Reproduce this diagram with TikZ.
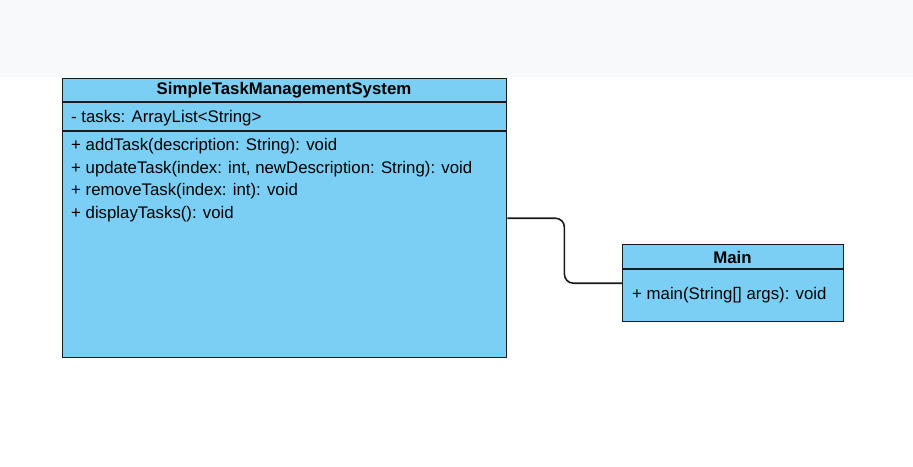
\documentclass[tikz,border=0pt]{standalone}
\usepackage{fontspec}
\setmainfont{Liberation Sans}
\definecolor{classfill}{HTML}{7BCFF5}
\definecolor{bandgray}{HTML}{F8F9FA}
\definecolor{linegray}{HTML}{1A1A1A}
\begin{document}
\begin{tikzpicture}[x=1pt,y=-1pt,
    classbox/.style={draw=linegray,fill=classfill,line width=1.4pt,anchor=north west,inner sep=0pt},
    classtitle/.style={font=\fontsize{16.8}{20}\selectfont\bfseries,inner sep=0pt},
    member/.style={font=\fontsize{16.8}{20}\selectfont,anchor=west,inner sep=0pt}]
        \useasboundingbox (0,0) rectangle (913,466);
        \fill[bandgray] (0,0) rectangle (913,77);
        % classes
        \node[classbox,minimum width=444pt,minimum height=279pt] (sys) at (62,78) {};
        \node[classbox,minimum width=221pt,minimum height=77pt] (main) at (622,244) {};
        \draw[draw=linegray,line width=1.4pt] (62,102) -- (506,102);
        \draw[draw=linegray,line width=1.4pt] (62,131) -- (506,131);
        \draw[draw=linegray,line width=1.4pt] (622,269) -- (843,269);
        \node[classtitle] (systitle) at (284,90) {SimpleTaskManagementSystem};
        \node[classtitle] (maintitle) at (732.5,257) {Main};
        \node[member] (attr) at (71,118) {- tasks: ArrayList<String>};
        \foreach \y/\txt [count=\i] in {146/{+ addTask(description: String): void},
                169/{+ updateTask(index: int, newDescription: String): void},
                191/{+ removeTask(index: int): void},
                214/{+ displayTasks(): void}}{
                \node[member] (op\i) at (71,\y) {\txt};
            }
        \node[member] (mainop) at (632,295) {+ main(String[] args): void};
        % connector
        \draw[draw=linegray,line width=1.6pt,rounded corners=9pt] (sys.east) -- ++(57,0) |- (main.west);
\end{tikzpicture}
\end{document}
